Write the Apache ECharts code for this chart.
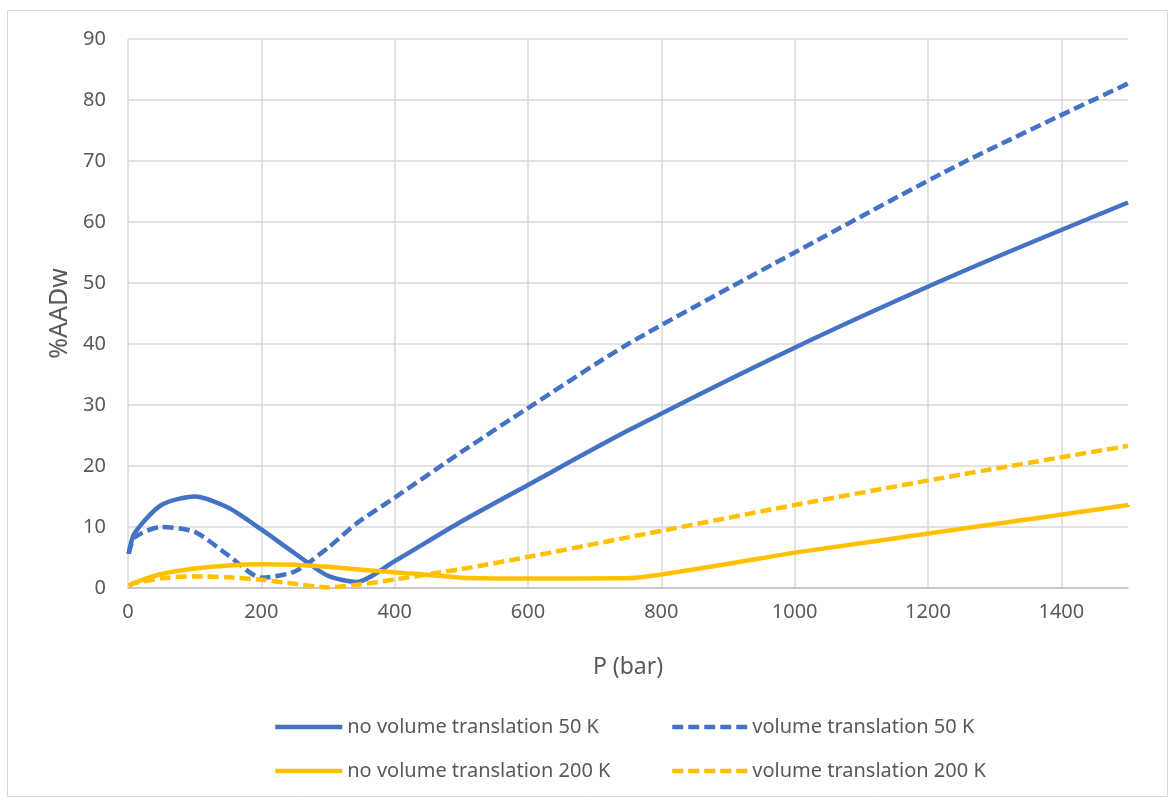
<!DOCTYPE html>
<html>
<head>
<meta charset="utf-8">
<title>%AADw vs P</title>
<script src="https://cdn.jsdelivr.net/npm/echarts@6/dist/echarts.min.js"></script>
<style>
  html, body { margin: 0; padding: 0; background: #ffffff; }
  #chart { width: 1176px; height: 803px; }
</style>
</head>
<body>
<div id="chart"></div>
<script>
// Pressure points (bar) for each curve
const pressure50K  = [1, 10, 50, 100, 150, 200, 250, 300, 343, 400, 500, 600, 750, 1000, 1250, 1500];
const pressure200K = [1, 10, 50, 100, 150, 200, 250, 300, 350, 400, 500, 600, 750, 1000, 1250, 1500];

// %AADw for each model / temperature
const noVolumeTranslation50K  = [5.6, 9.0, 13.6, 15.0, 13.2, 9.6, 5.7, 2.0, 1.0, 4.4, 10.9, 16.9, 25.8, 39.4, 51.8, 63.2];
const volumeTranslation50K    = [5.6, 8.3, 10.0, 9.2, 5.4, 1.7, 2.7, 6.6, 10.6, 14.8, 22.3, 29.5, 40.0, 55.0, 69.6, 82.7];
const noVolumeTranslation200K = [0.4, 0.9, 2.3, 3.2, 3.7, 3.9, 3.8, 3.5, 3.0, 2.6, 1.7, 1.57, 1.6, 5.8, 9.7, 13.6];
const volumeTranslation200K   = [0.4, 0.8, 1.6, 1.9, 1.75, 1.35, 0.7, 0.1, 0.6, 1.4, 3.1, 5.1, 8.3, 13.6, 18.6, 23.3];

const seriesNames = [
  'no volume translation 50 K',
  'volume translation 50 K',
  'no volume translation 200 K',
  'volume translation 200 K'
];

const xTitle = 'P (bar)';
const yTitle = '%AADw';

const BLUE = '#4472C4';
const GOLD = '#FFC000';
const TEXT = '#595959';
const GRID = '#D9D9D9';
const FONT = '"Noto Sans", "Open Sans", sans-serif';

function pairs(xs, values) {
  return xs.map((p, i) => [p, values[i]]);
}

function curve(name, xs, values, color, dashed, smoothness) {
  return {
    name: name,
    type: 'line',
    data: pairs(xs, values),
    smooth: smoothness,
    symbol: 'none',
    lineStyle: {
      color: color,
      width: 4.5,
      type: dashed ? [11, 5] : 'solid',
      join: 'round'
    },
    itemStyle: { color: color },
    emphasis: { disabled: true },
    z: 3
  };
}

const legendText = { color: TEXT, fontSize: 20, fontFamily: FONT };
const hiddenMarker = { color: 'rgba(0,0,0,0)', borderWidth: 0, opacity: 0 };

function legendColumn(left, names, width) {
  return {
    orient: 'vertical',
    left: left,
    top: 712,
    itemWidth: width,
    itemHeight: 14,
    itemGap: 24,
    textStyle: legendText,
    itemStyle: hiddenMarker,
    lineStyle: { width: 4.5 },
    data: names,
    selectedMode: false
  };
}

const chart = echarts.init(document.getElementById('chart'), null, { renderer: 'canvas' });

chart.setOption({
  animation: false,
  backgroundColor: '#ffffff',
  graphic: [{
    type: 'rect',
    shape: { x: 7.5, y: 10.5, width: 1160, height: 786 },
    style: { fill: 'none', stroke: GRID, lineWidth: 1 },
    silent: true,
    z: -1
  }],
  grid: { left: 128, top: 39, right: 48, bottom: 215, containLabel: false },
  xAxis: {
    type: 'value',
    min: 0,
    max: 1500,
    interval: 200,
    name: xTitle,
    nameLocation: 'middle',
    nameGap: 68,
    nameTextStyle: { color: TEXT, fontSize: 23, fontFamily: FONT },
    axisLine: { show: true, lineStyle: { color: '#BFBFBF', width: 1.5 } },
    axisTick: { show: false },
    axisLabel: {
      color: TEXT, fontSize: 20, fontFamily: FONT, margin: 14, showMaxLabel: false,
      formatter: (v) => String(v)
    },
    splitLine: { show: true, showMaxLine: false, lineStyle: { color: GRID, width: 1.5 } }
  },
  yAxis: {
    type: 'value',
    min: 0,
    max: 90,
    interval: 10,
    name: yTitle,
    nameLocation: 'middle',
    nameGap: 56,
    nameTextStyle: { color: TEXT, fontSize: 25, fontFamily: FONT },
    axisLine: { show: false },
    axisTick: { show: false },
    axisLabel: { color: TEXT, fontSize: 20, fontFamily: FONT, margin: 22 },
    splitLine: { show: true, lineStyle: { color: GRID, width: 1.5 } }
  },
  legend: [
    legendColumn(268, [seriesNames[0], seriesNames[2]], 67),
    legendColumn(665, [seriesNames[1], seriesNames[3]], 75)
  ],
  series: [
    curve(seriesNames[0], pressure50K, noVolumeTranslation50K, BLUE, false, 0.25),
    curve(seriesNames[1], pressure50K, volumeTranslation50K, BLUE, true, 0.25),
    curve(seriesNames[2], pressure200K, noVolumeTranslation200K, GOLD, false, 0.15),
    curve(seriesNames[3], pressure200K, volumeTranslation200K, GOLD, true, 0.25)
  ]
});
</script>
</body>
</html>
